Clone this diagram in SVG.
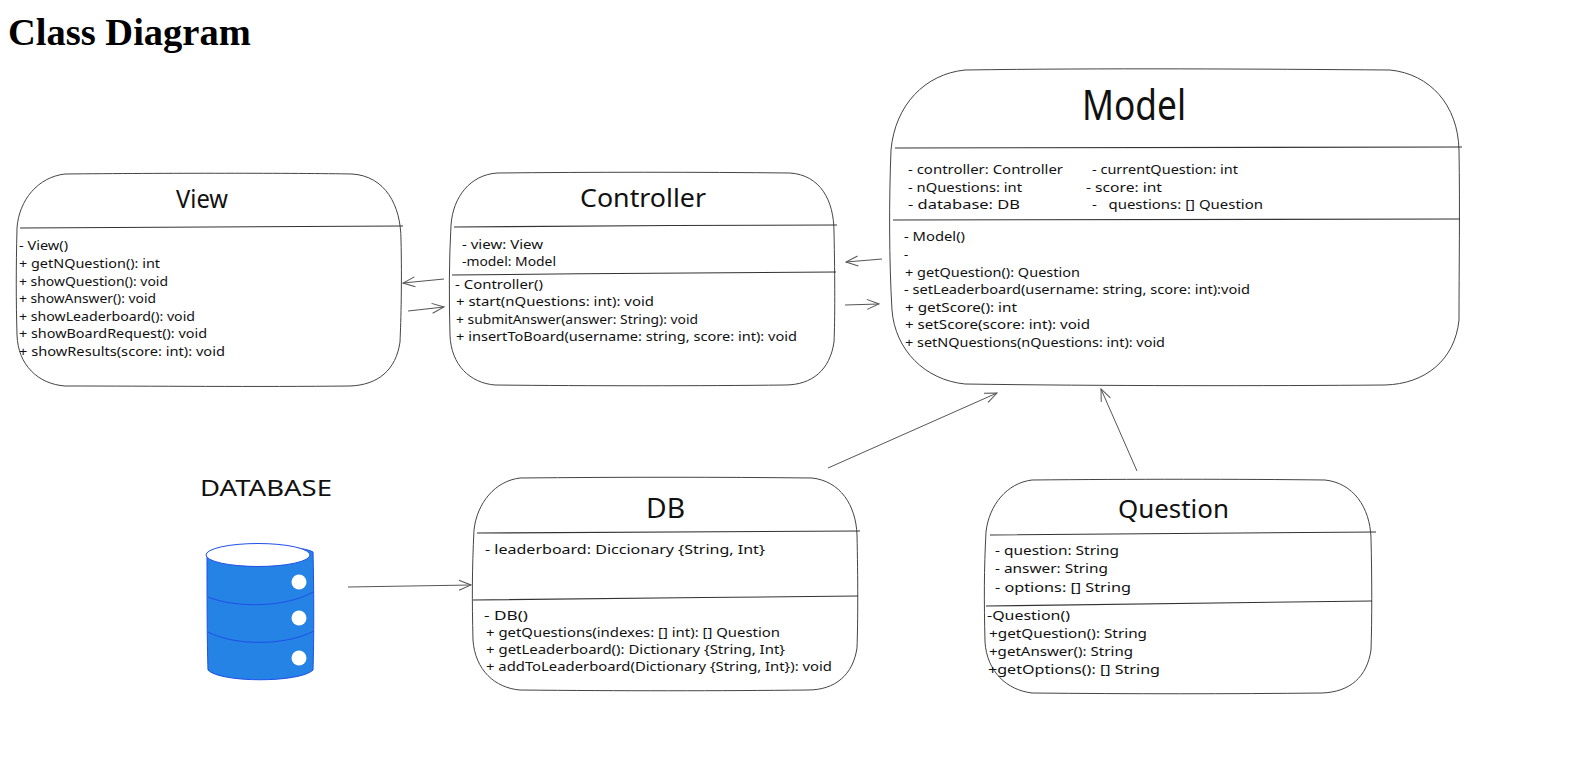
<svg xmlns="http://www.w3.org/2000/svg" width="1571" height="763" viewBox="0 0 1571 763">
<style>
text{font-family:"Noto Sans","Open Sans","Liberation Sans",sans-serif;fill:#111}
.h{font-family:"Liberation Serif",serif;font-weight:700;font-size:38.5px;fill:#000}
.t{font-size:13px}
.n{font-size:26px}
.b{fill:#fff;stroke:#444;stroke-width:1}
.d{fill:none;stroke:#333;stroke-width:1.1}
.c{fill:none;stroke:#555;stroke-width:1}
.u{fill:none;stroke:#1f4fe8;stroke-width:1}
</style>
<defs>
<marker id="a" viewBox="0 0 14 12" refX="13" refY="6" markerWidth="14" markerHeight="12" markerUnits="userSpaceOnUse" orient="auto"><path d="M1 1L13 6L1 11" fill="none" stroke="#555" stroke-width="1"/></marker>
</defs>
<rect width="1571" height="763" fill="#fff"/>
<text class="h" x="8" y="45">Class Diagram</text>

<g id="view">
<path class="b" d="M65 174C160 173 300 173 352 174C385 176 401 205 401 240C402 280 401 320 400 342C396 370 378 385 350 386C260 387 150 386 65 386C38 384 18 365 17 335C16 300 16 270 17 228C19 200 38 177 65 174Z"/>
<path class="d" d="M20 228C150 227 280 227 403 226"/>
<text class="n" x="176" y="208" textLength="52" lengthAdjust="spacingAndGlyphs">View</text>
<text class="t" x="19" y="250" textLength="49" lengthAdjust="spacingAndGlyphs">- View()</text>
<text class="t" x="19" y="268" textLength="141" lengthAdjust="spacingAndGlyphs">+ getNQuestion(): int</text>
<text class="t" x="19" y="286" textLength="149" lengthAdjust="spacingAndGlyphs">+ showQuestion(): void</text>
<text class="t" x="19" y="303" textLength="137" lengthAdjust="spacingAndGlyphs">+ showAnswer(): void</text>
<text class="t" x="19" y="321" textLength="176" lengthAdjust="spacingAndGlyphs">+ showLeaderboard(): void</text>
<text class="t" x="19" y="338" textLength="188" lengthAdjust="spacingAndGlyphs">+ showBoardRequest(): void</text>
<text class="t" x="19" y="356" textLength="206" lengthAdjust="spacingAndGlyphs">+ showResults(score: int): void</text>
</g>

<g id="controller">
<path class="b" d="M497 173C590 172 700 172 790 173C820 175 834 200 834 232C835 280 835 320 834 342C830 370 812 385 785 385C700 386 590 386 495 385C470 383 451 365 450 335C449 300 449 260 451 225C453 197 470 175 497 173Z"/>
<path class="d" d="M454 227C580 226 710 225 837 225"/>
<path class="d" d="M452 275C580 274 710 272 836 272"/>
<text class="n" x="580" y="207" textLength="126" lengthAdjust="spacingAndGlyphs">Controller</text>
<text class="t" x="462" y="249" textLength="81" lengthAdjust="spacingAndGlyphs">- view: View</text>
<text class="t" x="462" y="266" textLength="94" lengthAdjust="spacingAndGlyphs">-model: Model</text>
<text class="t" x="455" y="289" textLength="88" lengthAdjust="spacingAndGlyphs">- Controller()</text>
<text class="t" x="456" y="306" textLength="198" lengthAdjust="spacingAndGlyphs">+ start(nQuestions: int): void</text>
<text class="t" x="456" y="324" textLength="242" lengthAdjust="spacingAndGlyphs">+ submitAnswer(answer: String): void</text>
<text class="t" x="456" y="341" textLength="341" lengthAdjust="spacingAndGlyphs">+ insertToBoard(username: string, score: int): void</text>
</g>

<g id="model">
<path class="b" d="M965 70C1100 68 1260 69 1390 70C1430 74 1458 105 1459 150C1460 210 1459 270 1459 320C1455 360 1425 384 1385 385C1270 386 1100 386 965 384C925 380 895 350 892 310C889 260 889 200 891 150C895 105 925 74 965 70Z"/>
<path class="d" d="M895 148C1090 147 1280 146 1462 147"/>
<path class="d" d="M893 220C1080 219 1270 219 1460 219"/>
<text x="1082" y="120" style="font-size:41px" textLength="104" lengthAdjust="spacingAndGlyphs">Model</text>
<text class="t" x="908" y="174" textLength="155" lengthAdjust="spacingAndGlyphs">- controller: Controller</text>
<text class="t" x="908" y="192" textLength="114" lengthAdjust="spacingAndGlyphs">- nQuestions: int</text>
<text class="t" x="908" y="209" textLength="112" lengthAdjust="spacingAndGlyphs">- database: DB</text>
<text class="t" x="1092" y="174" textLength="146" lengthAdjust="spacingAndGlyphs">- currentQuestion: int</text>
<text class="t" x="1086" y="192" textLength="76" lengthAdjust="spacingAndGlyphs">- score: int</text>
<text class="t" x="1092" y="209" textLength="171" xml:space="preserve" lengthAdjust="spacingAndGlyphs">-   questions: [] Question</text>
<text class="t" x="904" y="241" textLength="61" lengthAdjust="spacingAndGlyphs">- Model()</text>
<text class="t" x="904" y="259">-</text>
<text class="t" x="905" y="277" textLength="175" lengthAdjust="spacingAndGlyphs">+ getQuestion(): Question</text>
<text class="t" x="904" y="294" textLength="346" lengthAdjust="spacingAndGlyphs">- setLeaderboard(username: string, score: int):void</text>
<text class="t" x="905" y="312" textLength="112" lengthAdjust="spacingAndGlyphs">+ getScore(): int</text>
<text class="t" x="905" y="329" textLength="185" lengthAdjust="spacingAndGlyphs">+ setScore(score: int): void</text>
<text class="t" x="905" y="347" textLength="260" lengthAdjust="spacingAndGlyphs">+ setNQuestions(nQuestions: int): void</text>
</g>

<g id="database">
<path d="M207 553C220 544 300 544 313 552C314 590 314 640 313 670C300 683 220 683 208 670C207 640 207 590 207 553Z" fill="#2583e6" stroke="#1f4fe8"/>
<ellipse cx="258" cy="555" rx="52" ry="11.5" fill="#fff" stroke="#1f4fe8"/>
<path class="u" d="M208 597C235 608 285 608 313 592M208 632C235 646 285 646 314 631"/>
<circle cx="299" cy="582" r="7.5" fill="#fff"/>
<circle cx="299" cy="618" r="7.5" fill="#fff"/>
<circle cx="299" cy="658" r="7.5" fill="#fff"/>
<text x="200" y="496" style="font-size:22px" textLength="132" lengthAdjust="spacingAndGlyphs">DATABASE</text>
</g>

<g id="db">
<path class="b" d="M520 478C620 477 720 477 812 478C840 481 856 505 857 535C858 580 858 620 857 648C853 675 835 690 808 690C720 691 620 691 520 690C495 688 475 670 473 640C472 600 472 570 474 530C477 503 495 481 520 478Z"/>
<path class="d" d="M477 533C600 532 730 531 860 531"/>
<path class="d" d="M473 600C600 599 730 597 858 596"/>
<text x="646" y="518" style="font-size:28px" textLength="39" lengthAdjust="spacingAndGlyphs">DB</text>
<text class="t" x="485" y="554" textLength="280" lengthAdjust="spacingAndGlyphs">- leaderboard: Diccionary {String, Int}</text>
<text class="t" x="484" y="620" textLength="44" lengthAdjust="spacingAndGlyphs">- DB()</text>
<text class="t" x="486" y="637" textLength="294" lengthAdjust="spacingAndGlyphs">+ getQuestions(indexes: [] int): [] Question</text>
<text class="t" x="486" y="654" textLength="299" lengthAdjust="spacingAndGlyphs">+ getLeaderboard(): Dictionary {String, Int}</text>
<text class="t" x="486" y="671" textLength="346" lengthAdjust="spacingAndGlyphs">+ addToLeaderboard(Dictionary {String, Int}): void</text>
</g>

<g id="question">
<path class="b" d="M1032 480C1130 479 1240 479 1325 480C1353 483 1370 507 1371 538C1372 580 1372 620 1371 650C1367 677 1350 692 1322 693C1230 694 1130 694 1032 693C1007 690 987 672 985 642C984 600 984 570 986 532C989 505 1007 483 1032 480Z"/>
<path class="d" d="M990 535C1120 534 1250 533 1376 532"/>
<path class="d" d="M986 606C1110 604 1240 602 1372 601"/>
<text x="1118" y="518" style="font-size:25px" textLength="111" lengthAdjust="spacingAndGlyphs">Question</text>
<text class="t" x="995" y="555" textLength="124" lengthAdjust="spacingAndGlyphs">- question: String</text>
<text class="t" x="995" y="573" textLength="113" lengthAdjust="spacingAndGlyphs">- answer: String</text>
<text class="t" x="995" y="592" textLength="136" lengthAdjust="spacingAndGlyphs">- options: [] String</text>
<text class="t" x="987" y="620" textLength="83" lengthAdjust="spacingAndGlyphs">-Question()</text>
<text class="t" x="989" y="638" textLength="158" lengthAdjust="spacingAndGlyphs">+getQuestion(): String</text>
<text class="t" x="989" y="656" textLength="144" lengthAdjust="spacingAndGlyphs">+getAnswer(): String</text>
<text class="t" x="988" y="674" textLength="172" lengthAdjust="spacingAndGlyphs">+getOptions(): [] String</text>
</g>

<g id="connectors">
<path class="c" marker-end="url(#a)" d="M444 279L403 283"/>
<path class="c" marker-end="url(#a)" d="M408 311L444 307"/>
<path class="c" marker-end="url(#a)" d="M882 259L846 262"/>
<path class="c" marker-end="url(#a)" d="M845 305L879 304"/>
<path class="c" marker-end="url(#a)" d="M348 587L471 585"/>
<path class="c" marker-end="url(#a)" d="M828 468L997 393"/>
<path class="c" marker-end="url(#a)" d="M1137 471L1101 389"/>
</g>
</svg>
